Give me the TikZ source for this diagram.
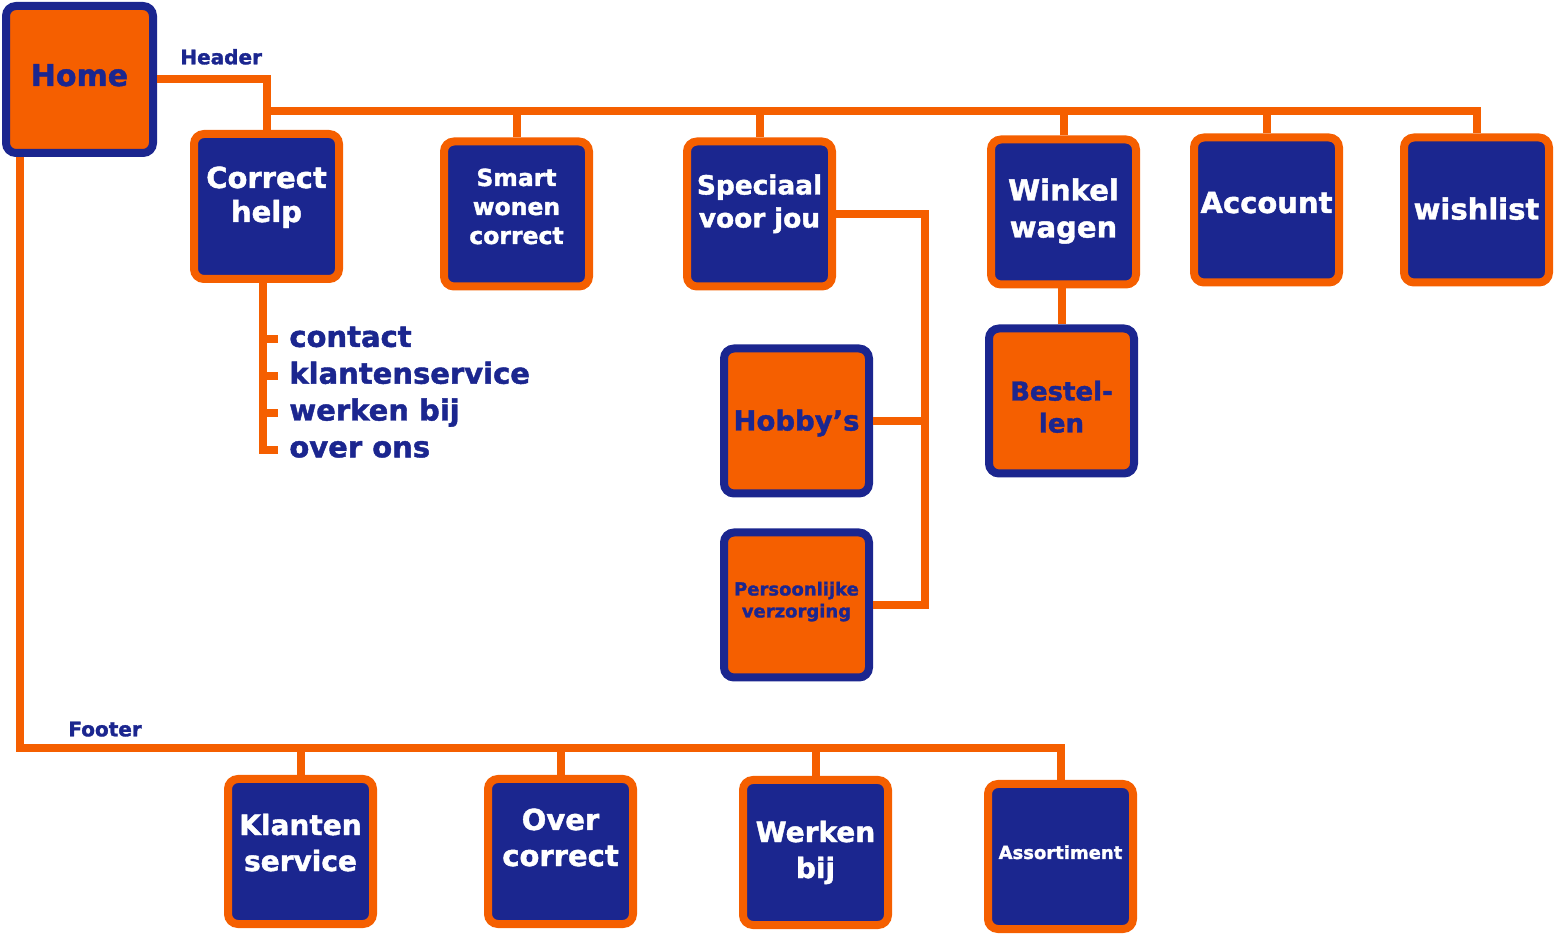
\documentclass[tikz,border=0pt]{standalone}
\usepackage{fontspec}
\setmainfont{DejaVu Sans}[BoldFeatures={FakeBold=1.5}]
\usepackage{xcolor}
\usepackage{tikz}
\usetikzlibrary{positioning, calc}

\definecolor{corange}{RGB}{245,95,0}
\definecolor{cblue}{RGB}{27,38,143}

\begin{document}
\begin{tikzpicture}[x=0.5pt, y=-0.5pt,
    box/.style={rectangle, rounded corners=5pt, line width=4pt, minimum size=72.5pt, inner sep=0pt, text width=72pt, align=center, text height=10pt},
    page/.style={box, draw=corange, fill=cblue, text=white},
    subpage/.style={box, draw=cblue, fill=corange, text=cblue},
    link/.style={draw=corange, line width=4pt},
    busname/.style={inner sep=0pt, text=cblue, font=\bfseries\fontsize{10}{12}\selectfont},
    menuitem/.style={inner sep=0pt, text=cblue, text height=10.5pt, text depth=3pt, font=\bfseries\fontsize{14.5}{17}\selectfont},
    node distance=0pt]

      \useasboundingbox (0,0) rectangle (1555,935);

      % Startseite
      \node[subpage, minimum size=73.5pt, text depth=3.5pt, font=\bfseries\fontsize{15}{18}\selectfont] (home) at (79.5,79.5) {Home};

      % Header
      \node[page, right=16.5pt of home, yshift=-63.5pt, text depth=28.5pt, font=\bfseries\fontsize{14.5}{17}\selectfont] (correcthelp) {Correct\\help};
      \node[page, right=48.5pt of correcthelp, yshift=-3.75pt, text depth=38pt, font=\bfseries\fontsize{11.75}{14.5}\selectfont] (smart) {Smart\\wonen\\correct};
      \node[page, right=45pt of smart, text depth=29.5pt, font=\bfseries\fontsize{13.2}{16.5}\selectfont] (speciaal) {Speciaal\\voor jou};
      \node[page, right=75.5pt of speciaal, yshift=1pt, text depth=21.5pt, font=\bfseries\fontsize{14.5}{18.5}\selectfont] (winkel) {Winkel\\wagen};
      \node[page, right=25pt of winkel, yshift=1pt, text depth=7pt, font=\bfseries\fontsize{14.5}{17}\selectfont] (account) {Account};
      \node[page, right=28.5pt of account, text depth=0.5pt, font=\bfseries\fontsize{14.5}{17}\selectfont] (wishlist) {wishlist};

      % Unterseiten
      \node[subpage, below=27pt of speciaal, xshift=18.5pt, text depth=0.5pt, font=\bfseries\fontsize{13.75}{16}\selectfont] (hobby) {Hobby’s};
      \node[subpage, below=15.5pt of hobby, text depth=19.5pt, font=\bfseries\fontsize{9}{11}\selectfont] (persoon) {Persoonlijke\\verzorging};
      \node[subpage, below=18pt of winkel, xshift=-1pt, text depth=10.5pt, font=\bfseries\fontsize{13}{16}\selectfont] (bestel) {Bestel-\\len};

      % Liste unter Correct help
      \node[menuitem, below right=21.25pt and 11.25pt of correcthelp.south] (contactitem) {contact};
      \node[menuitem, below=4.5pt of contactitem.south west, anchor=north west] (serviceitem) {klantenservice};
      \node[menuitem, below=4.5pt of serviceitem.south west, anchor=north west] (werkitem) {werken bij};
      \node[menuitem, below=4.5pt of werkitem.south west, anchor=north west] (overitem) {over ons};

      % Footer
      \node[page, below=309pt of home, xshift=110.5pt, text depth=26.5pt, font=\bfseries\fontsize{14}{18}\selectfont] (klantenservice) {Klanten\\service};
      \node[page, right=53.5pt of klantenservice, text depth=31.5pt, font=\bfseries\fontsize{14.5}{18}\selectfont] (overcorrect) {Over\\correct};
      \node[page, right=51pt of overcorrect, yshift=-0.5pt, text depth=20.5pt, font=\bfseries\fontsize{14}{18}\selectfont] (werkenbij) {Werken\\bij};
      \node[page, right=46pt of werkenbij, yshift=-2pt, text depth=7.5pt, font=\bfseries\fontsize{9}{11}\selectfont] (assortiment) {Assortiment};

      % Hilfspunkte
      \coordinate (headerbus) at (0,111);
      \coordinate (footerbus) at (0,748);
      \coordinate (footerdrop) at ([xshift=9pt]home.south west);
      \coordinate (footercorner) at (footerdrop |- footerbus);
      \coordinate (jouhook) at ([xshift=26pt]persoon.east);
      \coordinate (listspine) at ([xshift=-1.75pt]correcthelp.south);

      % Linien Header
      \draw[link] (home.east) -| (correcthelp.north);
      \draw[link] (correcthelp.north |- headerbus) -| (wishlist.north);
      \draw[link] (smart.north) -- (smart.north |- headerbus);
      \draw[link] (speciaal.north) -- (speciaal.north |- headerbus);
      \draw[link] (winkel.north) -- (winkel.north |- headerbus);
      \draw[link] (account.north) -- (account.north |- headerbus);

      % Linien Unterseiten
      \draw[link] (speciaal.east) -| (jouhook) -- (persoon.east);
      \draw[link] (hobby.east) -- (hobby.east -| jouhook);
      \draw[link] (bestel.north) -- (bestel.north |- winkel.south);

      % Linien Liste
      \draw[link] (listspine) |- ([xshift=-5.5pt]overitem.west);
      \draw[link] (listspine |- contactitem.west) -- ([xshift=-5.5pt]contactitem.west);
      \draw[link] (listspine |- serviceitem.west) -- ([xshift=-5.5pt]serviceitem.west);
      \draw[link] (listspine |- werkitem.west) -- ([xshift=-5.5pt]werkitem.west);

      % Linien Footer
      \draw[link] (footerdrop) |- (footerbus -| assortiment.north) -- (assortiment.north);
      \draw[link] (klantenservice.north) -- (klantenservice.north |- footerbus);
      \draw[link] (overcorrect.north) -- (overcorrect.north |- footerbus);
      \draw[link] (werkenbij.north) -- (werkenbij.north |- footerbus);

      % Beschriftung
      \node[busname, above right=7.25pt and 11.5pt of home.east] (headerlabel) {Header};
      \node[busname, above right=5.5pt and 24pt of footercorner] (footerlabel) {Footer};

      \end{tikzpicture}
\end{document}
